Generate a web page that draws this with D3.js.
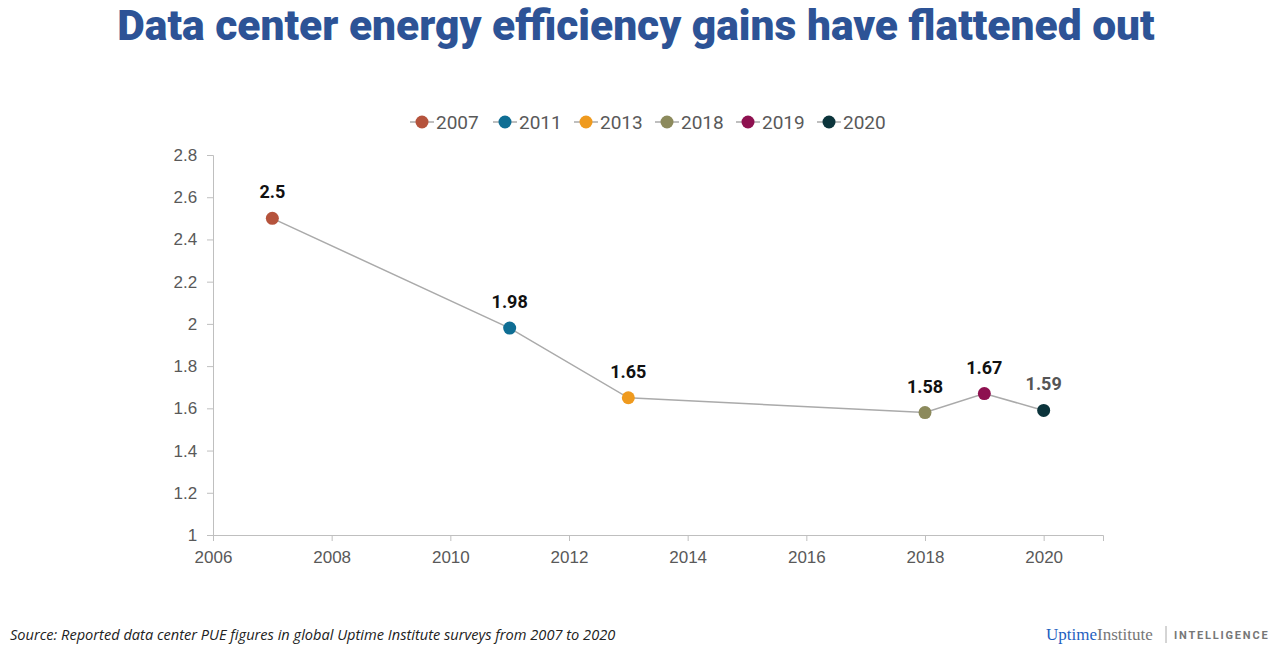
<!DOCTYPE html>
<html><head><meta charset="utf-8">
<script src="https://cdn.jsdelivr.net/npm/d3@7"></script>
<style>body{margin:0;background:#fff;font-family:Roboto,sans-serif}</style>
</head><body>
<svg id="chart" width="1274" height="653"></svg>
<script>
const years = [2007, 2011, 2013, 2018, 2019, 2020];
const pue = [2.5, 1.98, 1.65, 1.58, 1.67, 1.59];
const colors = ["#b5533c", "#0f6e94", "#ef9a1e", "#8c8a5c", "#8e1150", "#0b343b"];
const labelColors = ["#111", "#111", "#111", "#111", "#111", "#555"];
const xTicks = [2006, 2008, 2010, 2012, 2014, 2016, 2018, 2020];
const yTicks = [1, 1.2, 1.4, 1.6, 1.8, 2, 2.2, 2.4, 2.6, 2.8];

const svg = d3.select("#chart");
const x = d3.scaleLinear().domain([2006, 2021]).range([213, 1103]);
const y = d3.scaleLinear().domain([1, 2.8]).range([535, 155]);

svg.append("text").attr("x", 636).attr("y", 40).attr("text-anchor", "middle")
  .attr("font-size", 42.5).attr("font-weight", 900).attr("fill", "#2d5396")
  .attr("font-family", "Roboto").text("Data center energy efficiency gains have flattened out");

// axes
const xa = svg.append("g").attr("transform", "translate(0,535)")
  .call(d3.axisBottom(x).tickValues(xTicks).tickFormat(d3.format("d")).tickSize(6));
xa.selectAll("text").attr("font-size", 17).attr("fill", "#595959").attr("dy", "1.1em");
xa.selectAll("line,path").attr("stroke", "#bfbfbf");
const ya = svg.append("g").attr("transform", "translate(213,0)")
  .call(d3.axisLeft(y).tickValues(yTicks).tickFormat(d => d3.format("~g")(d)).tickSize(6));
ya.selectAll("text").attr("font-size", 17).attr("fill", "#595959").attr("dx", "-0.4em");
ya.selectAll("line,path").attr("stroke", "#bfbfbf");

// line
svg.append("path").datum(years.map((yr, i) => [yr, pue[i]]))
  .attr("d", d3.line().x(d => x(d[0])).y(d => y(d[1])))
  .attr("fill", "none").attr("stroke", "#aaaaaa").attr("stroke-width", 1.5);

svg.selectAll("circle.pt").data(years).join("circle").attr("class", "pt")
  .attr("cx", d => x(d)).attr("cy", (d, i) => y(pue[i])).attr("r", 6.5)
  .attr("fill", (d, i) => colors[i]);

svg.selectAll("text.lbl").data(years).join("text").attr("class", "lbl")
  .attr("x", d => x(d)).attr("y", (d, i) => y(pue[i]) - 20)
  .attr("text-anchor", "middle").attr("font-size", 18).attr("font-weight", 700)
  .attr("fill", (d, i) => labelColors[i]).text((d, i) => pue[i]);

// legend
const lg = svg.append("g");
let lx = 410;
years.forEach((yr, i) => {
  const g = lg.append("g").attr("transform", `translate(${lx},122)`);
  g.append("line").attr("x1", 0).attr("x2", 24).attr("stroke", "#aaa").attr("stroke-width", 1.5);
  g.append("circle").attr("cx", 12).attr("r", 6.5).attr("fill", colors[i]);
  g.append("text").attr("x", 26).attr("y", 6.5).attr("font-size", 19).attr("fill", "#595959").text(yr);
  lx += i === 0 ? 83 : 81;
});

svg.append("text").attr("x", 10).attr("y", 640).attr("font-size", 14.6).attr("font-style", "italic")
  .attr("fill", "#222").attr("font-family", "Open Sans")
  .text("Source: Reported data center PUE figures in global Uptime Institute surveys from 2007 to 2020");

// logo
const logo = svg.append("text").attr("x", 1046).attr("y", 640).attr("font-family", "Liberation Serif").attr("font-size", 17);
logo.append("tspan").attr("fill", "#1f5fbf").text("Uptime");
logo.append("tspan").attr("fill", "#777").text("Institute");
svg.append("line").attr("x1", 1166).attr("x2", 1166).attr("y1", 626).attr("y2", 643).attr("stroke", "#aaa");
svg.append("text").attr("x", 1174).attr("y", 639).attr("font-size", 11).attr("font-weight", 700)
  .attr("letter-spacing", 1.8).attr("fill", "#777").text("INTELLIGENCE");
</script>
</body></html>
